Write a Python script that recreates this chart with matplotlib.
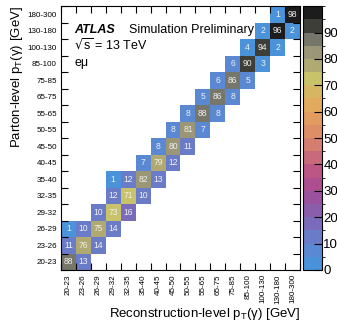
import numpy as np
import matplotlib
matplotlib.use('Agg')
import matplotlib.pyplot as plt
from matplotlib.colors import ListedColormap, BoundaryNorm

plt.rcParams['font.family'] = ['Liberation Sans', 'DejaVu Sans']
plt.rcParams['mathtext.default'] = 'regular'

# bins (same for reco and parton level)
bins = ['20-23', '23-26', '26-29', '29-32', '32-35', '35-40', '40-45', '45-50',
        '50-55', '55-65', '65-75', '75-85', '85-100', '100-130', '130-180', '180-300']

# migration matrix [%], per parton-level row
below2 = [0, 0, 1, 0, 0, 1, 0, 0, 0, 0, 0, 0, 0, 0, 0, 0]
below = [0, 11, 10, 10, 12, 12, 7, 8, 8, 8, 5, 6, 6, 4, 2, 1]
diag = [88, 76, 75, 73, 71, 82, 79, 80, 81, 88, 86, 86, 90, 94, 96, 98]
above = [13, 14, 14, 16, 10, 13, 12, 11, 7, 8, 8, 5, 3, 2, 2, 0]

n = len(bins)
M = np.zeros((n, n))
for i in range(n):
    M[i, i] = diag[i]
    if i >= 1:
        M[i, i - 1] = below[i]
    if i >= 2:
        M[i, i - 2] = below2[i]
    if i < n - 1:
        M[i, i + 1] = above[i]

# palette, 20 bands from 0 to 100
colors = ['#4a92da', '#5a88d2', '#6a7cc8', '#7a6cba', '#8a5eaa', '#9a529e',
          '#ac4e90', '#bc5684', '#c86a7a', '#d47e70', '#de8e66', '#e29c60',
          '#e2aa5e', '#d6b662', '#c8c26a', '#b0aa72', '#9a9676', '#76766a',
          '#3e3e38', '#1c1c1c']
cmap = ListedColormap(colors)
norm = BoundaryNorm(np.linspace(0, 100, 21), cmap.N)

fig = plt.figure(figsize=(3.37, 3.22), dpi=100)
ax = fig.add_axes([0.181, 0.1615, 0.709, 0.8195])
cax = fig.add_axes([0.899, 0.1615, 0.056, 0.8195])

Mm = np.ma.masked_where(M == 0, M)
mesh = ax.pcolormesh(np.arange(n + 1), np.arange(n + 1), Mm, cmap=cmap, norm=norm)
for i in range(n):
    for j in range(n):
        if M[i, j] > 0:
            ax.text(j + 0.5, i + 0.5, '%d' % M[i, j], ha='center', va='center',
                    fontsize=6.2, color='#f0f0f0')

ax.set_xlim(0, n)
ax.set_ylim(0, n)
ax.set_xticks(np.arange(n + 1))
ax.set_yticks(np.arange(n + 1))
ax.set_xticklabels([])
ax.set_yticklabels([])
ax.set_xticks(np.arange(n) + 0.5, minor=True)
ax.set_yticks(np.arange(n) + 0.5, minor=True)
ax.set_xticklabels(bins, minor=True, rotation=90, fontsize=5.8)
ax.set_yticklabels(bins, minor=True, fontsize=5.8)
ax.tick_params(which='major', direction='in', length=5, width=0.8,
               top=True, right=True)
ax.tick_params(which='minor', length=0, pad=3)

ax.set_xlabel(r'Reconstruction-level p$_T$($\gamma$) [GeV]', fontsize=9.5,
              loc='right', labelpad=2)
ax.set_ylabel(r'Parton-level p$_T$($\gamma$) [GeV]', fontsize=9.5,
              loc='top', labelpad=2)

ax.text(0.055, 0.898, 'ATLAS', transform=ax.transAxes, fontsize=9,
        fontweight='bold', style='italic')
ax.text(0.285, 0.898, 'Simulation Preliminary', transform=ax.transAxes, fontsize=9)
ax.text(0.055, 0.833, r'$\sqrt{s}$ = 13 TeV', transform=ax.transAxes, fontsize=9)
ax.text(0.055, 0.772, 'eμ', transform=ax.transAxes, fontsize=9)

cb = fig.colorbar(mesh, cax=cax)
cb.set_ticks(np.arange(0, 100, 10))
cb.outline.set_linewidth(0.8)
cax.tick_params(direction='in', length=6, width=0.8, labelsize=9.5, pad=1)

plt.savefig('out.png', dpi=100)
